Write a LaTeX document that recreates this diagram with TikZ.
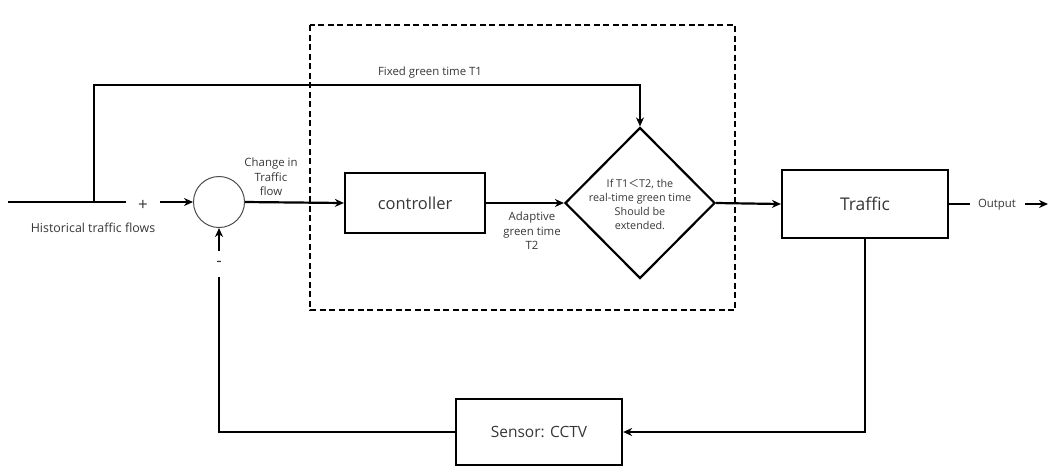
\documentclass[tikz,border=0pt]{standalone}
\usepackage{fontspec}
\setmainfont{Open Sans}
\newfontfamily\cjk{Noto Sans CJK SC}
\usetikzlibrary{shapes.geometric,arrows.meta}
\definecolor{txtgray}{RGB}{55,55,55}
\tikzset{
  blk/.style={draw=black, line width=2.2pt, minimum width=#1, inner sep=0pt},
  wire/.style={line width=2.2pt},
  arr/.style={wire, -{Stealth[length=9pt,width=8pt]}},
  lbl/.style={text=txtgray, font=\fontsize{11.4}{14.5}\selectfont, align=center, inner sep=0pt},
  sign/.style={text=txtgray, font=\fontsize{17}{18}\selectfont, inner sep=0pt},
  biglbl/.style={text=txtgray, font=\fontsize{16.5}{18}\selectfont, inner sep=0pt},
}
\begin{document}
\begin{tikzpicture}[x=1pt,y=-1pt]
\useasboundingbox (0,0) rectangle (1049,467);
% dashed box
\draw[line width=2.2pt, dash pattern=on 6pt off 3.5pt] (310,25) rectangle (735,310);
% nodes
\node[draw=black!70, line width=1pt, circle, minimum size=51pt, inner sep=0pt] (sum) at (219,202) {};
\node[blk=140pt, minimum height=60pt, biglbl] (ctrl) at (415,203) {controller};
\node[draw=black, line width=2.2pt, diamond, minimum width=150pt, minimum height=151pt, inner sep=0pt] (dec) at (640,203) {};
\node[lbl, font=\fontsize{10.8}{14}\selectfont] (dectext) at (640,204) {If T1{\cjk ＜}T2, the\\real-time green time\\Should be\\extended.};
\node[blk=166pt, minimum height=68pt, biglbl, font=\fontsize{17.5}{19}\selectfont] (traffic) at (865,204) {Traffic};
\node[blk=166pt, minimum height=66pt, biglbl, font=\fontsize{15.5}{18}\selectfont] (sensor) at (539,432) {Sensor: CCTV};
% coordinates
\coordinate (in) at (8,202);
\coordinate (inend) at (126,202);
\coordinate (tap) at (94,202);
\coordinate (corner) at (94,85);
\coordinate (plusend) at (160,202);
\coordinate (outa) at (970,204);
\coordinate (outb) at (1025,204);
\coordinate (outc) at (1048,204);
\coordinate (fbtop) at (219,277);
\coordinate (fbarr) at (219,251);
% labels
\node[sign] (plus) at (143,205) {+};
\node[sign] (minus) at (219,264) {-};
\node[lbl, font=\fontsize{12.4}{14}\selectfont] (hist) at (93,228) {Historical traffic flows};
\node[lbl] (chg) at (271,177) {Change in\\Traffic\\flow};
\node[lbl] (adapt) at (532,231) {Adaptive\\green time\\T2};
\node[lbl] (fixed) at (430,73) {Fixed green time T1};
\node[lbl] (output) at (997,205) {Output};
% connectors
\draw[wire] (in) -- (inend);
\draw[arr] (tap) -- (corner) -| (dec.north);
\draw[arr] (plusend) -- (sum.west);
\draw[arr] (sum.east) -- (ctrl.west);
\draw[arr] (ctrl.east) -- (dec.west);
\draw[arr] (dec.east) -- (traffic.west);
\draw[wire] (traffic.east) -- (outa);
\draw[arr] (outb) -- (outc);
\draw[arr] (traffic.south) |- (sensor.east);
\draw[wire] (sensor.west) -| (fbtop);
\draw[arr] (fbarr) -- (sum.south);
\end{tikzpicture}
\end{document}
